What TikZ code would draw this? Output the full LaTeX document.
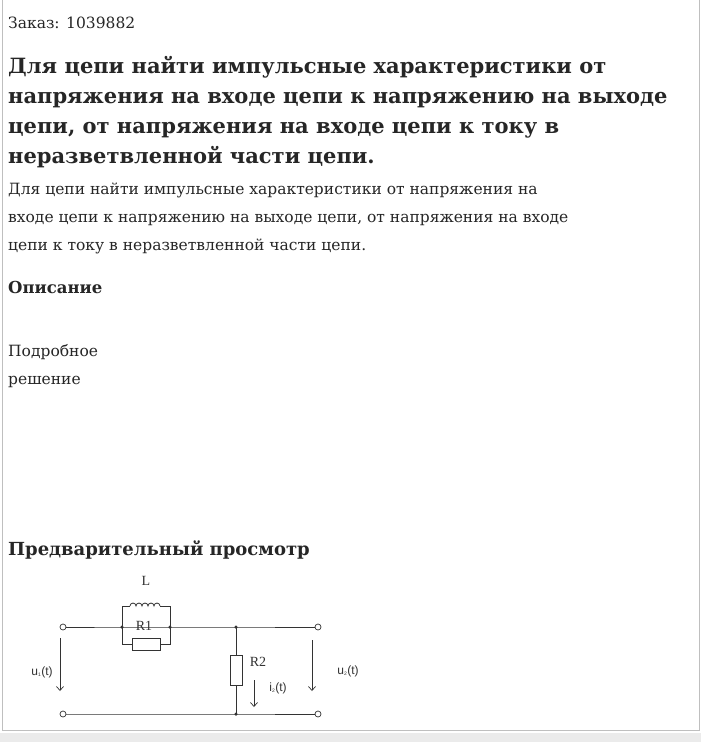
\documentclass[tikz,border=0pt]{standalone}
\usepackage{fontspec}
\setmainfont{DejaVu Serif}
\newfontfamily\circfont{Liberation Serif}
\newfontfamily\circsans{Liberation Sans}
\usetikzlibrary{arrows.meta}
\tikzset{
 txt/.style={anchor=base west,inner sep=0pt,text=black!85},
 wire/.style={line width=0.8pt,black!80},
 term/.style={circle,draw=black!80,line width=0.7pt,fill=white,inner sep=0pt,minimum size=6pt},
 dot/.style={circle,fill=black!80,inner sep=0pt,minimum size=3.5pt},
 res/.style={draw=black!80,line width=0.8pt,fill=white,inner sep=0pt},
 arr/.style={line width=0.7pt,black!80,-{Straight Barb[length=4pt,width=7pt]}},
 lab/.style={inner sep=0pt,text=black!80,font=\circfont\fontsize{14}{14}\selectfont},
 slab/.style={inner sep=0pt,text=black!80,font=\circsans\fontsize{12}{12}\selectfont}
}
\begin{document}
\begin{tikzpicture}[x=1pt,y=-1pt]
\useasboundingbox (0,0) rectangle (701,742);
\fill[white] (0,0) rectangle (701,742);
\draw[black!25,line width=1pt] (2,0) -- (2,730) -- (699,730) -- (699,0);
\fill[black!8] (0,733) rectangle (701,742);
\node[txt,font=\fontsize{15.5}{15.5}\selectfont] (t0) at (8,28) {Заказ: 1039882};
\node[txt,font=\bfseries\fontsize{21}{21}\selectfont] (h1) at (8,73) {Для цепи найти импульсные характеристики от};
\node[txt,font=\bfseries\fontsize{21}{21}\selectfont] (h2) at (8,103) {напряжения на входе цепи к напряжению на выходе};
\node[txt,font=\bfseries\fontsize{21}{21}\selectfont] (h3) at (8,133) {цепи, от напряжения на входе цепи к току в};
\node[txt,font=\bfseries\fontsize{21}{21}\selectfont] (h4) at (8,163) {неразветвленной части цепи.};
\node[txt,font=\fontsize{15.5}{15.5}\selectfont] (p1) at (8,194) {Для цепи найти импульсные характеристики от напряжения на};
\node[txt,font=\fontsize{15.5}{15.5}\selectfont] (p2) at (8,222) {входе цепи к напряжению на выходе цепи, от напряжения на входе};
\node[txt,font=\fontsize{15.5}{15.5}\selectfont] (p3) at (8,250) {цепи к току в неразветвленной части цепи.};
\node[txt,font=\bfseries\fontsize{16.5}{16.5}\selectfont] (op) at (8,293) {Описание};
\node[txt,font=\fontsize{15.5}{15.5}\selectfont] (d1) at (8,356) {Подробное};
\node[txt,font=\fontsize{15.5}{15.5}\selectfont] (d2) at (8,384) {решение};
\node[txt,font=\bfseries\fontsize{18}{18}\selectfont] (pv) at (8,555) {Предварительный просмотр};
% circuit
\coordinate (a) at (122,627);
\coordinate (b) at (170,627);
\coordinate (j) at (236,627);
\coordinate (jb) at (236,714);
\node[term] (in1) at (63,627) {};
\node[term] (in2) at (63,714) {};
\node[term] (out1) at (318,627) {};
\node[term] (out2) at (318,714) {};
\node[res,minimum width=28pt,minimum height=12pt] (R1) at (146,644) {};
\node[res,minimum width=12pt,minimum height=30pt] (R2) at (236,670) {};
\draw[wire] (in1) -- (a) -- (b) -- (j) -- (out1);
\draw[wire] (in2) -- (jb) -- (out2);
\draw[wire] (j) -- (R2) -- (jb);
\draw[wire] (a) |- (R1.west);
\draw[wire] (b) |- (R1.east);
\draw[wire] (a) -- (122,606) -- (130,606);
\draw[wire] (130,606) arc[start angle=180,end angle=0,radius=3pt]
 arc[start angle=180,end angle=0,radius=3pt] arc[start angle=180,end angle=0,radius=3pt]
 arc[start angle=180,end angle=0,radius=3pt] arc[start angle=180,end angle=0,radius=3pt] coordinate (le);
\draw[wire] (le) -- (170,606) -- (b);
\node[dot] (da) at (a) {};
\node[dot] (db) at (b) {};
\node[dot] (dj) at (j) {};
\node[dot] (djb) at (jb) {};
\node[lab] (L) at (146,581) {L};
\node[lab] (r1) at (144,626) {R1};
\node[lab] (r2) at (258,662) {R2};
\coordinate (u1s) at (60,638); \coordinate (u1e) at (60,691);
\draw[arr] (u1s) -- (u1e);
\coordinate (u2s) at (312,640); \coordinate (u2e) at (312,691);
\draw[arr] (u2s) -- (u2e);
\coordinate (i2s) at (254,680); \coordinate (i2e) at (254,707);
\draw[arr] (i2s) -- (i2e);
\node[slab] (u1) at (42,672) {u\textsubscript{\tiny 1}(t)};
\node[slab] (u2) at (348,671) {u\textsubscript{\tiny 2}(t)};
\node[slab] (i2) at (278,688) {i\textsubscript{\tiny 2}(t)};
\end{tikzpicture}
\end{document}
